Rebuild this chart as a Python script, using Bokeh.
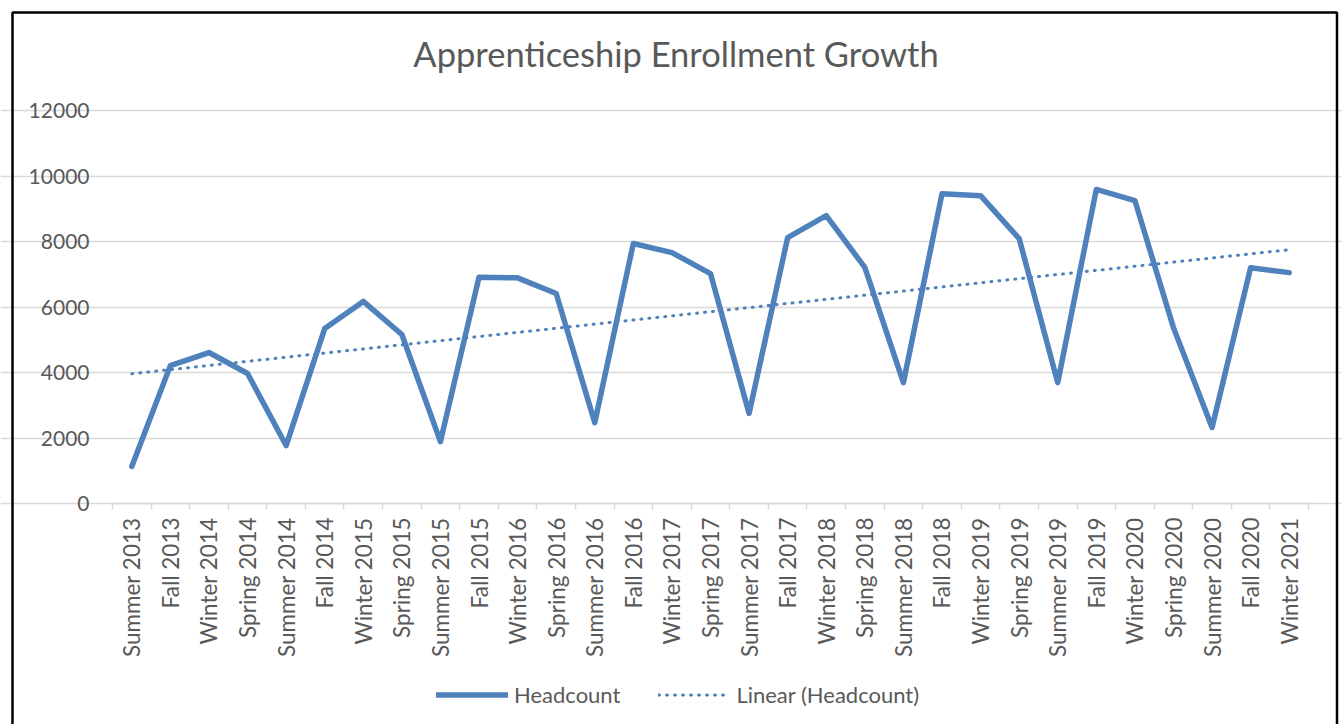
import numpy as np
from math import pi
from bokeh.plotting import figure
from bokeh.models import (Range1d, FixedTicker, CustomJSTickFormatter, Legend,
                          LegendItem, BoxAnnotation, Label)
from bokeh.embed import file_html
from bokeh.resources import INLINE

# ---------------- data ----------------
periods = ["Summer 2013", "Fall 2013", "Winter 2014", "Spring 2014",
           "Summer 2014", "Fall 2014", "Winter 2015", "Spring 2015",
           "Summer 2015", "Fall 2015", "Winter 2016", "Spring 2016",
           "Summer 2016", "Fall 2016", "Winter 2017", "Spring 2017",
           "Summer 2017", "Fall 2017", "Winter 2018", "Spring 2018",
           "Summer 2018", "Fall 2018", "Winter 2019", "Spring 2019",
           "Summer 2019", "Fall 2019", "Winter 2020", "Spring 2020",
           "Summer 2020", "Fall 2020", "Winter 2021"]
headcount = [1130, 4210, 4610, 3970, 1770, 5340, 6170, 5160, 1890, 6910,
             6890, 6410, 2470, 7940, 7660, 7020, 2750, 8120, 8790, 7210,
             3690, 9460, 9400, 8090, 3690, 9590, 9250, 5370, 2320, 7200, 7050]
y_ticks = [0, 2000, 4000, 6000, 8000, 10000, 12000]

# ---------------- style / layout ----------------
FONT = "Lato"
TEXT = "#595959"
BLUE = "#4F81BD"
GRID = "#D9D9D9"

W, H = 1341, 724
PL, PR, PT, PB = 112, 1308, 110, 503   # plot area in canvas pixels

n = len(periods)
x_pos = np.arange(n) + 0.5
coef = np.polyfit(x_pos, headcount, 1)          # linear trend of Headcount
trend = np.polyval(coef, x_pos)

xs = (PR - PL) / n
x_start = -PL / xs
x_end = x_start + W / xs
ymax = y_ticks[-1]
ys = (PB - PT) / ymax
y_end = ymax + PT / ys
y_start = -(H - PB) / ys


def dx(px):
    return x_start + px / xs


def dy(py):
    return y_end - py / ys


p = figure(width=W, height=H, x_range=Range1d(x_start, x_end),
           y_range=Range1d(y_start, y_end), output_backend="svg",
           toolbar_location=None, title=None,
           min_border_left=0, min_border_right=0,
           min_border_top=0, min_border_bottom=0)
p.outline_line_color = None
p.background_fill_color = "white"
p.border_fill_color = "white"

r1 = p.line(x_pos, headcount, line_width=5.5, color=BLUE, line_join="round",
            line_cap="round")
r2 = p.line(x_pos, trend, line_width=3, color=BLUE, line_dash="1 7",
            line_cap="round")

# ---------------- x axis ----------------
xa = p.xaxis[0]
xa.fixed_location = 0
xa.bounds = (0, n)
xa.ticker = FixedTicker(ticks=list(x_pos), minor_ticks=list(range(n + 1)))
xa.formatter = CustomJSTickFormatter(args=dict(labels=periods),
                                     code="return labels[Math.round(tick - 0.5)];")
xa.major_label_orientation = pi / 2
xa.major_tick_line_color = None
xa.major_tick_out = 6
xa.major_tick_in = 0
xa.minor_tick_line_color = GRID
xa.minor_tick_line_width = 1.5
xa.minor_tick_out = 6
xa.minor_tick_in = 0
xa.axis_line_color = GRID
xa.axis_line_width = 1.5
xa.major_label_standoff = 8
xa.major_label_text_font = FONT
xa.major_label_text_font_size = "22.5px"
xa.major_label_text_color = TEXT
p.xgrid.visible = False

# ---------------- y axis ----------------
ya = p.yaxis[0]
ya.fixed_location = 0
ya.bounds = (0, ymax)
ya.ticker = FixedTicker(ticks=y_ticks)
ya.axis_line_color = None
ya.major_tick_line_color = None
ya.minor_tick_line_color = None
ya.major_tick_out = 0
ya.major_tick_in = 0
ya.major_label_standoff = 23
ya.major_label_text_font = FONT
ya.major_label_text_font_size = "21px"
ya.major_label_text_color = TEXT
p.ygrid.ticker = FixedTicker(ticks=y_ticks)
p.ygrid.bounds = (0, n)
p.ygrid.grid_line_color = GRID
p.ygrid.grid_line_width = 1.5

# ---------------- title ----------------
p.add_layout(Label(x=dx(675.5), y=dy(53),
                   text="Apprenticeship Enrollment Growth", text_font=FONT,
                   text_font_size="34.5px", text_color=TEXT,
                   text_align="center", text_baseline="alphabetic"))

# ---------------- chart border ----------------
p.add_layout(BoxAnnotation(left=dx(12), right=dx(1336.5), top=dy(12),
                           bottom=dy(H + 60), fill_alpha=0,
                           line_color="black", line_width=2.5, line_alpha=1))

# ---------------- legend ----------------
legend = Legend(items=[LegendItem(label="Headcount", renderers=[r1]),
                       LegendItem(label="Linear (Headcount)", renderers=[r2])],
                orientation="horizontal", location=(436, H - 707.5),
                label_text_font=FONT, label_text_font_size="22px",
                label_text_color=TEXT, glyph_width=72, glyph_height=25,
                label_height=25, label_standoff=6, spacing=38,
                border_line_color=None, background_fill_alpha=0,
                padding=0, margin=0)
p.add_layout(legend)

open("out.html", "w").write(file_html(p, INLINE))
